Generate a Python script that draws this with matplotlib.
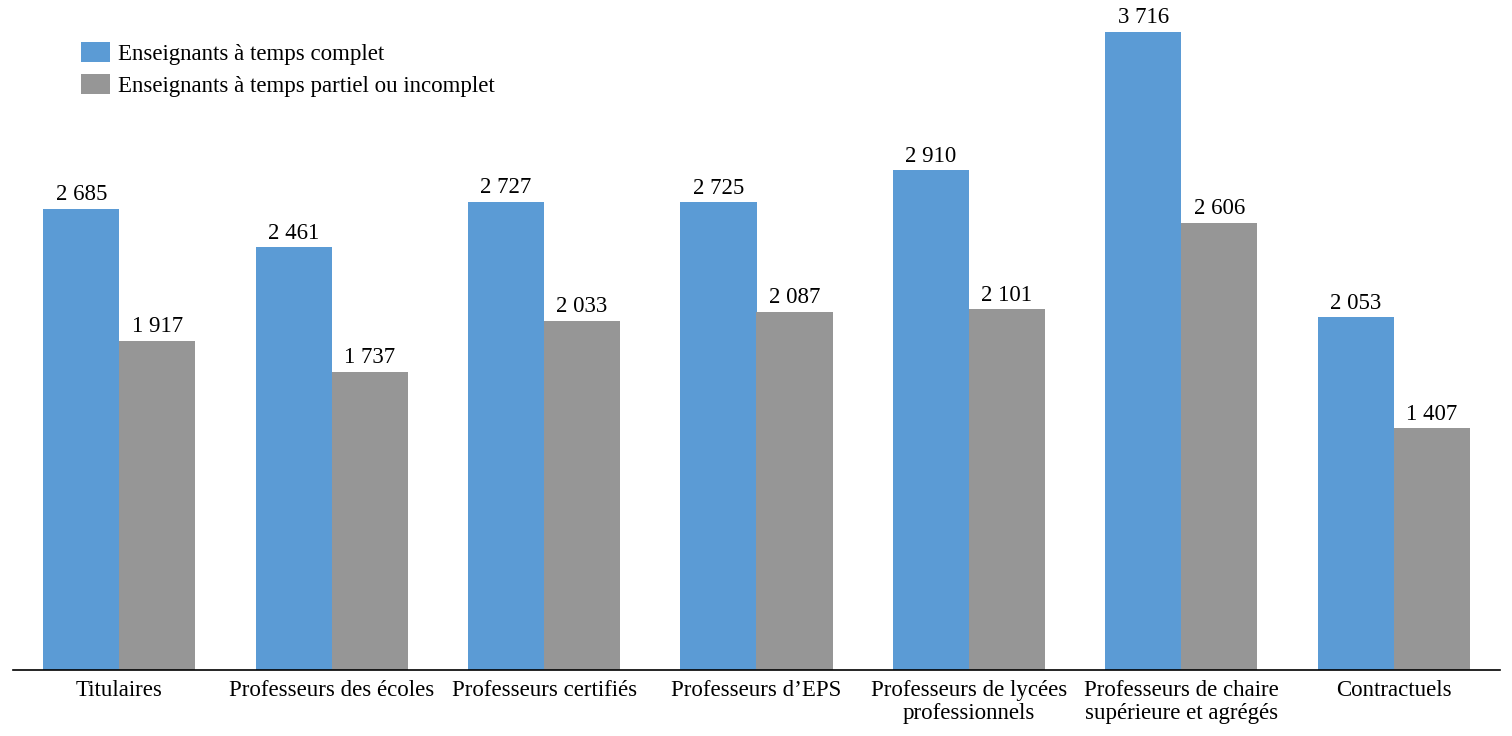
import matplotlib.pyplot as plt
import numpy as np

# Categories
categories = ['Titulaires', 'Professeurs des écoles', 'Professeurs certifiés',
              'Professeurs d\u2019EPS', 'Professeurs de lycées\nprofessionnels',
              'Professeurs de chaire\nsupérieure et agrégés', 'Contractuels']

# Values
temps_complet = [2685, 2461, 2727, 2725, 2910, 3716, 2053]
temps_partiel = [1917, 1737, 2033, 2087, 2101, 2606, 1407]

plt.rcParams['font.family'] = ['Liberation Serif', 'DejaVu Serif']

fig = plt.figure(figsize=(15.12, 7.36), dpi=100)
ax = fig.add_axes([13/1512, 1 - 670/736, 1487/1512, 670/736])

x = np.arange(len(categories))
width = 0.358

b1 = ax.bar(x - width/2, temps_complet, width, color='#5B9BD5',
            label='Enseignants à temps complet')
b2 = ax.bar(x + width/2, temps_partiel, width, color='#969696',
            label='Enseignants à temps partiel ou incomplet')

def fmt(v):
    return f"{v:,}".replace(",", " ")

for bars, vals in [(b1, temps_complet), (b2, temps_partiel)]:
    for rect, v in zip(bars, vals):
        ax.annotate(fmt(v), (rect.get_x() + rect.get_width()/2, v),
                    xytext=(0, 2.5), textcoords='offset points',
                    ha='center', va='bottom', fontsize=16.5)

ax.set_xlim(-0.5, len(categories) - 0.5)
ax.set_ylim(0, 3902)
ax.set_xticks(x)
ax.set_xticklabels(categories, fontsize=16.5, linespacing=1.1, va='top')
ax.tick_params(axis='x', length=0, pad=7.5)
ax.set_yticks([])
for s in ['top', 'right', 'left']:
    ax.spines[s].set_visible(False)
ax.spines['bottom'].set_color('black')
ax.spines['bottom'].set_linewidth(1.2)

ax.legend(loc='upper left', bbox_to_anchor=(81/1512, 1 - 42/736),
          bbox_transform=fig.transFigure, frameon=False, fontsize=16.5,
          handlelength=1.27, handleheight=0.96, handletextpad=0.35,
          labelspacing=0.4, borderaxespad=0, borderpad=0)

fig.savefig('out.png', dpi=100)
